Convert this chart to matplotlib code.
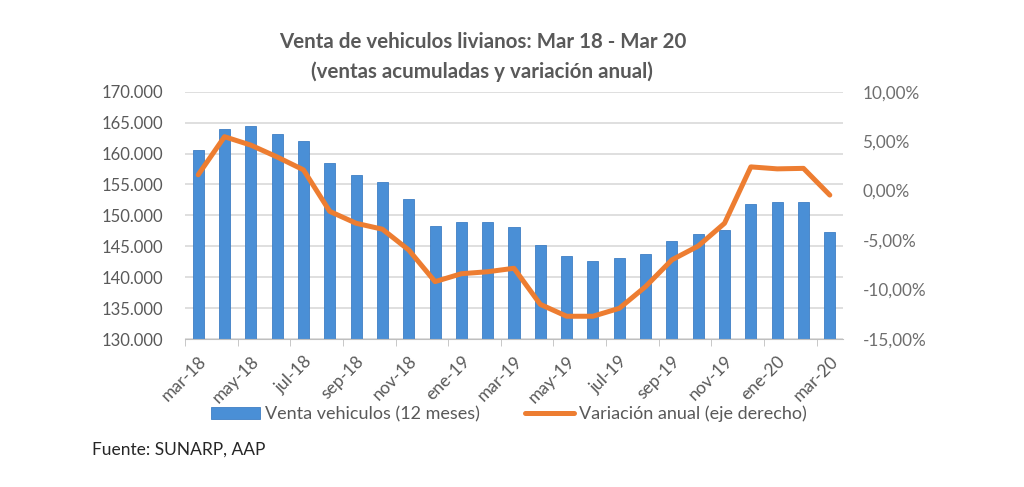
import matplotlib
matplotlib.use('Agg')
import matplotlib.pyplot as plt
from matplotlib.ticker import FuncFormatter, MultipleLocator

plt.rcParams['font.family'] = ['Lato', 'DejaVu Sans']

# meses mar-18 .. mar-20
months = ['mar-18', 'abr-18', 'may-18', 'jun-18', 'jul-18', 'ago-18', 'sep-18',
          'oct-18', 'nov-18', 'dic-18', 'ene-19', 'feb-19', 'mar-19', 'abr-19',
          'may-19', 'jun-19', 'jul-19', 'ago-19', 'sep-19', 'oct-19', 'nov-19',
          'dic-19', 'ene-20', 'feb-20', 'mar-20']

# ventas acumuladas 12 meses (unidades)
sales = [160500, 164000, 164400, 163200, 162100, 158500, 156500, 155400, 152700,
         148200, 149000, 149000, 148100, 145200, 143500, 142600, 143100, 143700,
         145900, 147000, 147700, 151800, 152100, 152200, 147300]

# variacion anual (%)
variation = [1.6, 5.45, 4.6, 3.4, 2.1, -2.1, -3.3, -3.9, -6.0, -9.2, -8.4, -8.2,
             -7.85, -11.5, -12.7, -12.7, -11.9, -9.7, -7.0, -5.6, -3.3, 2.4, 2.2,
             2.25, -0.45]

grey = '#595959'
x = list(range(len(months)))

fig = plt.figure(figsize=(10.24, 4.87), dpi=100)
ax = fig.add_axes([0.1807, 0.3039, 0.8232 - 0.1807, 0.8117 - 0.3039])
ax2 = ax.twinx()

ax.bar(x, sales, width=0.42, color='#4A8FD6', edgecolor='#3F7FC4', linewidth=0.6,
       zorder=2, label='Venta vehiculos (12 meses)')
ax2.plot(x, variation, color='#ED7D31', linewidth=3.6, solid_joinstyle='round',
         solid_capstyle='round', label='Variación anual (eje derecho)')

ax.set_xlim(-0.5, len(months) - 0.5)
ax.set_ylim(130000, 170000)
ax2.set_ylim(-15, 10)
ax.yaxis.set_major_locator(MultipleLocator(5000))
ax2.yaxis.set_major_locator(MultipleLocator(5))
ax.yaxis.set_major_formatter(FuncFormatter(lambda v, p: f'{v:,.0f}'.replace(',', '.')))
ax2.yaxis.set_major_formatter(FuncFormatter(lambda v, p: f'{v:.2f}%'.replace('.', ',')))

ax.grid(axis='y', color='#D9D9D9', linewidth=1.2, zorder=0)
ax.set_axisbelow(True)
for a in (ax, ax2):
    for s in ('top', 'left', 'right', 'bottom'):
        a.spines[s].set_visible(False)
ax.spines['bottom'].set_visible(True)
ax.spines['bottom'].set_color('#BFBFBF')

ax.set_xticks(x[::2])
ax.set_xticklabels(months[::2], rotation=45, ha='right', rotation_mode='anchor')
ax.set_xticks([i - 0.5 for i in range(0, len(months) + 1, 2)], minor=True)
ax.tick_params(axis='x', which='major', length=0, pad=10, labelsize=12.5, colors=grey)
ax.tick_params(axis='x', which='minor', length=5, color='#BFBFBF')
ax.tick_params(axis='y', length=0, pad=16, labelsize=12, colors=grey)
ax2.tick_params(axis='y', length=0, pad=14, labelsize=12.3, colors='#6E6E6E')

fig.text(0.471, 0.913, 'Venta de vehiculos livianos: Mar 18 - Mar 20',
         ha='center', va='center', fontsize=14.8, fontweight='bold', color=grey)
fig.text(0.471, 0.852, '(ventas acumuladas y variación anual)',
         ha='center', va='center', fontsize=14.8, fontweight='bold', color=grey)

h1, l1 = ax.get_legend_handles_labels()
h2, l2 = ax2.get_legend_handles_labels()
fig.legend(h1 + h2, l1 + l2, loc='center', bbox_to_anchor=(0.497, 0.150), ncol=2,
           frameon=False, fontsize=13, labelcolor=grey, handlelength=2.7,
           handletextpad=0.28, columnspacing=2.5)

fig.text(0.09, 0.076, 'Fuente: SUNARP, AAP', ha='left', va='center',
         fontsize=12.5, color='#262626')

plt.savefig('out.png', dpi=100)
plt.close()
